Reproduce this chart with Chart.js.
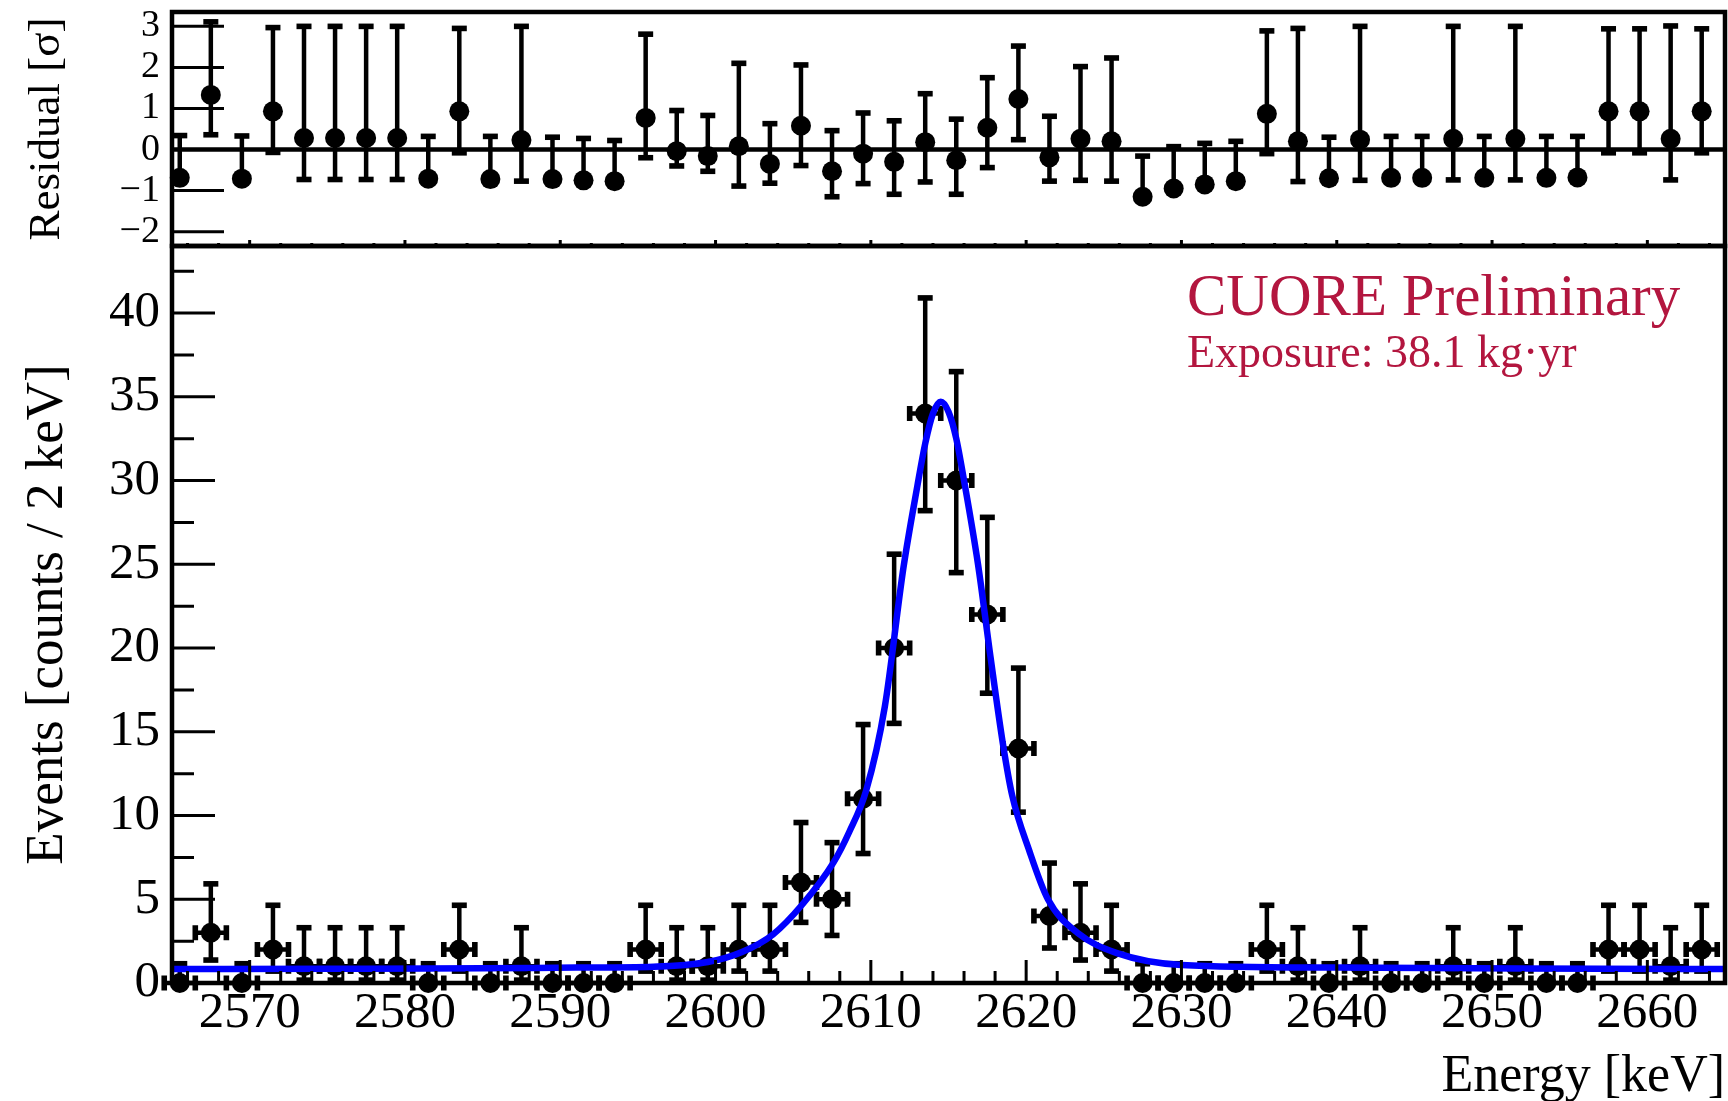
<!DOCTYPE html>
<html>
<head>
<meta charset="utf-8">
<script src="https://cdn.jsdelivr.net/npm/chart.js@4.4.1/dist/chart.umd.min.js"></script>
<style>
  html, body { margin: 0; padding: 0; background: #fff; overflow: hidden; }
  #wrap { position: relative; width: 1728px; height: 1101px; }
  #wrap canvas { position: absolute; left: 0; top: 0; }
</style>
</head>
<body>
<div id="wrap">
  <canvas id="mainChart" width="1728" height="1101"></canvas>
  <canvas id="residChart" width="1728" height="262"></canvas>
</div>
<script>
// --- data: 2 keV bins ---
const binCenters = [
  2565.5, 2567.5, 2569.5, 2571.5, 2573.5, 2575.5, 2577.5, 2579.5, 2581.5, 2583.5,
  2585.5, 2587.5, 2589.5, 2591.5, 2593.5, 2595.5, 2597.5, 2599.5, 2601.5, 2603.5,
  2605.5, 2607.5, 2609.5, 2611.5, 2613.5, 2615.5, 2617.5, 2619.5, 2621.5, 2623.5,
  2625.5, 2627.5, 2629.5, 2631.5, 2633.5, 2635.5, 2637.5, 2639.5, 2641.5, 2643.5,
  2645.5, 2647.5, 2649.5, 2651.5, 2653.5, 2655.5, 2657.5, 2659.5, 2661.5, 2663.5
];
const counts = [
  0, 3, 0, 2, 1, 1, 1, 1, 0, 2,
  0, 1, 0, 0, 0, 2, 1, 1, 2, 2,
  6, 5, 11, 20, 34, 30, 22, 14, 4, 3,
  2, 0, 0, 0, 0, 2, 1, 0, 1, 0,
  0, 1, 0, 1, 0, 0, 2, 2, 1, 2
];
// lower / upper ends of the (asymmetric Poisson) error bars
const countLow = [
  0, 1.37, 0, 0.71, 0.17, 0.17, 0.17, 0.17, 0, 0.71,
  0, 0.17, 0, 0, 0, 0.71, 0.17, 0.17, 0.71, 0.71,
  3.62, 2.84, 7.73, 15.5, 28.2, 24.5, 17.3, 10.2, 2.09, 1.37,
  0.71, 0, 0, 0, 0, 0.71, 0.17, 0, 0.17, 0,
  0, 0.17, 0, 0.17, 0, 0, 0.71, 0.71, 0.17, 0.71
];
const countHigh = [
  1.15, 5.92, 1.15, 4.64, 3.30, 3.30, 3.30, 3.30, 1.15, 4.64,
  1.15, 3.30, 1.15, 1.15, 1.15, 4.64, 3.30, 3.30, 4.64, 4.64,
  9.58, 8.38, 15.43, 25.6, 40.9, 36.5, 27.8, 18.8, 7.16, 5.92,
  4.64, 1.15, 1.15, 1.15, 1.15, 4.64, 3.30, 1.15, 3.30, 1.15,
  1.15, 3.30, 1.15, 3.30, 1.15, 1.15, 4.64, 4.64, 3.30, 4.64
];

// residuals [sigma] with the ends of their bars
const residual = [
  -0.69, 1.33, -0.71, 0.93, 0.28, 0.28, 0.28, 0.28, -0.71, 0.93,
  -0.72, 0.23, -0.72, -0.75, -0.77, 0.77, -0.04, -0.16, 0.08, -0.35,
  0.58, -0.53, -0.10, -0.30, 0.18, -0.26, 0.53, 1.23, -0.19, 0.26,
  0.20, -1.15, -0.95, -0.85, -0.77, 0.87, 0.20, -0.70, 0.24, -0.69,
  -0.69, 0.26, -0.69, 0.26, -0.69, -0.68, 0.93, 0.93, 0.26, 0.93
];
const residHigh = [
  0.34, 3.11, 0.33, 2.97, 3.00, 3.00, 3.00, 3.00, 0.32, 2.95,
  0.32, 3.00, 0.30, 0.27, 0.22, 2.81, 0.95, 0.83, 2.10, 0.63,
  2.06, 0.46, 0.89, 0.70, 1.36, 0.74, 1.75, 2.52, 0.81, 2.02,
  2.23, -0.16, 0.07, 0.15, 0.20, 2.89, 2.95, 0.30, 3.00, 0.32,
  0.32, 3.00, 0.32, 3.00, 0.32, 0.32, 2.94, 2.94, 3.01, 2.94
];
const residLow = [
  -0.69, 0.36, -0.71, -0.07, -0.73, -0.73, -0.73, -0.73, -0.71, -0.08,
  -0.72, -0.77, -0.72, -0.75, -0.77, -0.20, -0.40, -0.53, -0.89, -0.82,
  -0.39, -1.15, -0.83, -1.09, -0.79, -1.09, -0.44, 0.24, -0.77, -0.75,
  -0.77, -1.15, -0.95, -0.85, -0.77, -0.10, -0.78, -0.70, -0.75, -0.69,
  -0.69, -0.74, -0.69, -0.74, -0.69, -0.68, -0.08, -0.08, -0.74, -0.08
];

// fit curve, sampled by eye along the blue line
const fitEnergy = [
  2565, 2575, 2585, 2591, 2596, 2599.5, 2601.7, 2603.7, 2605.6, 2607.6,
  2608.6, 2609.7, 2610.9, 2612.1, 2613.0, 2613.5, 2614.0, 2614.5, 2615.0, 2615.5,
  2616.0, 2616.9, 2617.7, 2618.5, 2619.1, 2620.2, 2621.4, 2623.3, 2625.8, 2630,
  2640, 2652, 2665
];
const fitCounts = [
  0.83, 0.85, 0.88, 0.92, 0.97, 1.25, 1.85, 2.9, 4.7, 7.2,
  9.0, 11.5, 16.5, 24.8, 29.7, 32.2, 34.0, 34.7, 34.1, 32.5,
  30.0, 25.0, 19.5, 14.3, 11.2, 7.9, 5.0, 3.0, 1.8, 1.08,
  0.92, 0.86, 0.83
];

const energyTicks = [2570, 2580, 2590, 2600, 2610, 2620, 2630, 2640, 2650, 2660];
const countTicks = [0, 5, 10, 15, 20, 25, 30, 35, 40];
const residTicks = [-2, -1, 0, 1, 2, 3];
const energyMinorStep = 2;
const countMinorStep = 2.5;

const INK = '#000000';
const FIT_BLUE = '#0000ff';
const LABEL_RED = '#b3163f';
const FONT = '"Liberation Serif", "Times New Roman", serif';

// --- helpers ---
function drawFrame(chart) {
  const { ctx, chartArea: a } = chart;
  ctx.save();
  ctx.strokeStyle = INK;
  ctx.lineWidth = 4.5;
  ctx.strokeRect(a.left, a.top, a.right - a.left, a.bottom - a.top);
  ctx.restore();
}

function drawTickMarks(chart, scaleId, values, len) {
  const s = chart.scales[scaleId], a = chart.chartArea, ctx = chart.ctx;
  ctx.save();
  ctx.strokeStyle = INK;
  ctx.lineWidth = 3;
  ctx.beginPath();
  values.forEach(v => {
    const p = s.getPixelForValue(v);
    if (s.isHorizontal()) { ctx.moveTo(p, a.bottom); ctx.lineTo(p, a.bottom - len); }
    else { ctx.moveTo(a.left, p); ctx.lineTo(a.left + len, p); }
  });
  ctx.stroke();
  ctx.restore();
}

function stepValues(from, to, step, skip) {
  const out = [];
  for (let v = from; v <= to + 1e-9; v += step) {
    if (!skip.some(t => Math.abs(t - v) < 1e-6)) out.push(v);
  }
  return out;
}

function drawErrorBars(chart, xs, ys, lo, hi, halfWidth) {
  const x = chart.scales.x, y = chart.scales.y, ctx = chart.ctx;
  ctx.save();
  ctx.fillStyle = INK;
  ctx.strokeStyle = INK;
  ctx.lineWidth = 4.5;
  xs.forEach((e, i) => {
    const px = x.getPixelForValue(e), py = y.getPixelForValue(ys[i]);
    const pl = y.getPixelForValue(lo[i]), ph = y.getPixelForValue(hi[i]);
    ctx.beginPath(); ctx.moveTo(px, pl); ctx.lineTo(px, ph); ctx.stroke();
    ctx.fillRect(px - 7.5, ph - 2.8, 15, 5.6);
    if (lo[i] < ys[i]) ctx.fillRect(px - 7.5, pl - 2.8, 15, 5.6);
    if (halfWidth) {
      const xl = x.getPixelForValue(e - halfWidth), xr = x.getPixelForValue(e + halfWidth);
      ctx.beginPath(); ctx.moveTo(xl, py); ctx.lineTo(xr, py); ctx.stroke();
      ctx.fillRect(xl - 2.8, py - 7.5, 5.6, 15);
      ctx.fillRect(xr - 2.8, py - 7.5, 5.6, 15);
    }
  });
  ctx.restore();
}

// keep the plot frame exactly where the layout padding puts it
function fixWidth(w) {
  return s => { s.width = w; s.paddingTop = 0; s.paddingBottom = 0; s.paddingLeft = 0; s.paddingRight = 0; };
}
function fixHeight(h) {
  return s => { s.height = h; s.paddingTop = 0; s.paddingBottom = 0; s.paddingLeft = 0; s.paddingRight = 0; };
}

const tickFont = size => ({ family: FONT, size: size });
const minusSign = v => (v < 0 ? '\u2212' + Math.abs(v) : String(v));

// --- main spectrum ---
const mainDecor = {
  id: 'mainDecor',
  beforeDatasetsDraw(chart) {
    drawErrorBars(chart, binCenters, counts, countLow, countHigh, 1);
  },
  afterDatasetsDraw(chart) {
    drawFrame(chart);
    drawTickMarks(chart, 'x', energyTicks, 23);
    drawTickMarks(chart, 'x', stepValues(2566, 2664, energyMinorStep, energyTicks), 12);
    drawTickMarks(chart, 'y', countTicks, 43);
    drawTickMarks(chart, 'y', stepValues(2.5, 42.5, countMinorStep, countTicks), 22);

    const { ctx, chartArea: a } = chart;
    ctx.save();
    ctx.fillStyle = LABEL_RED;
    ctx.textBaseline = 'alphabetic';
    ctx.textAlign = 'left';
    ctx.font = '59px ' + FONT;
    ctx.fillText('CUORE Preliminary', a.right - 538, a.top + 69);
    ctx.font = '46px ' + FONT;
    ctx.fillText('Exposure: 38.1 kg\u00b7yr', a.right - 538, a.top + 121);
    ctx.restore();
  }
};

new Chart(document.getElementById('mainChart'), {
  type: 'scatter',
  data: {
    datasets: [
      {
        label: 'fit',
        data: fitEnergy.map((e, i) => ({ x: e, y: fitCounts[i] })),
        showLine: true,
        borderColor: FIT_BLUE,
        borderWidth: 6.5,
        pointRadius: 0,
        cubicInterpolationMode: 'monotone',
        order: 0
      },
      {
        label: 'data',
        data: binCenters.map((e, i) => ({ x: e, y: counts[i] })),
        pointRadius: 10,
        pointBackgroundColor: INK,
        pointBorderWidth: 0,
        clip: false,
        order: 1
      }
    ]
  },
  options: {
    responsive: false, animation: false, events: [],
    layout: { autoPadding: false, padding: { top: 246, right: 3, left: 0, bottom: 0 } },
    plugins: { legend: { display: false }, tooltip: { enabled: false } },
    scales: {
      x: {
        type: 'linear', min: 2565, max: 2665,
        afterBuildTicks: s => { s.ticks = energyTicks.map(v => ({ value: v })); },
        afterFit: fixHeight(118),
        grid: { display: false, drawTicks: false },
        border: { display: false },
        ticks: { font: tickFont(51), color: INK, padding: 0, maxRotation: 0, autoSkip: false, callback: v => String(v) },
        title: { display: true, text: 'Energy [keV]', align: 'end', color: INK,
                 font: { family: FONT, size: 52, lineHeight: 0.9 }, padding: { top: 0, bottom: 0 } }
      },
      y: {
        min: 0, max: 44,
        afterBuildTicks: s => { s.ticks = countTicks.map(v => ({ value: v })); },
        afterFit: fixWidth(172),
        grid: { display: false, drawTicks: false },
        border: { display: false },
        ticks: { font: tickFont(51), color: INK, padding: 12, autoSkip: false, callback: v => String(v) },
        title: { display: true, text: 'Events [counts / 2 keV]', color: INK,
                 font: { family: FONT, size: 53 }, padding: { top: 16, bottom: 0 } }
      }
    }
  },
  plugins: [mainDecor]
});

// --- residual pad ---
const residDecor = {
  id: 'residDecor',
  beforeDatasetsDraw(chart) {
    drawErrorBars(chart, binCenters, residual, residLow, residHigh, 0);
  },
  afterDatasetsDraw(chart) {
    drawFrame(chart);
    drawTickMarks(chart, 'x', energyTicks, 6);
    drawTickMarks(chart, 'x', stepValues(2566, 2664, energyMinorStep, energyTicks), 3);
    drawTickMarks(chart, 'y', residTicks, 52);
  }
};

new Chart(document.getElementById('residChart'), {
  type: 'scatter',
  data: {
    datasets: [
      {
        label: 'zero',
        data: [{ x: 2565, y: 0 }, { x: 2665, y: 0 }],
        showLine: true,
        borderColor: INK,
        borderWidth: 4.5,
        pointRadius: 0,
        order: 1
      },
      {
        label: 'pull',
        data: binCenters.map((e, i) => ({ x: e, y: residual[i] })),
        pointRadius: 10,
        pointBackgroundColor: INK,
        pointBorderWidth: 0,
        clip: false,
        order: 0
      }
    ]
  },
  options: {
    responsive: false, animation: false, events: [],
    layout: { autoPadding: false, padding: { top: 12, right: 3, left: 0, bottom: 16 } },
    plugins: { legend: { display: false }, tooltip: { enabled: false } },
    scales: {
      x: { type: 'linear', min: 2565, max: 2665, display: false },
      y: {
        min: -2.35, max: 3.35,
        afterBuildTicks: s => { s.ticks = residTicks.map(v => ({ value: v })); },
        afterFit: fixWidth(172),
        grid: { display: false, drawTicks: false },
        border: { display: false },
        ticks: { font: tickFont(38), color: INK, padding: 12, autoSkip: false, callback: minusSign },
        title: { display: true, text: 'Residual [\u03c3]', color: INK,
                 font: { family: FONT, size: 45 }, padding: { top: 20, bottom: 0 } }
      }
    }
  },
  plugins: [residDecor]
});
</script>
</body>
</html>
